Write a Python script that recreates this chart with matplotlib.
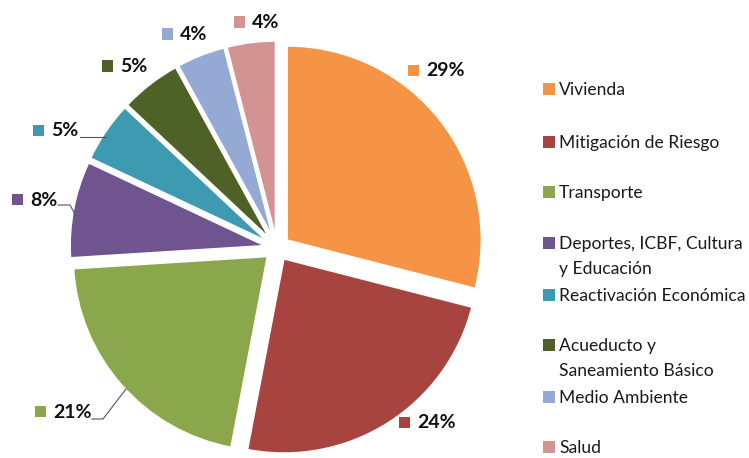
import matplotlib
matplotlib.use("Agg")
import matplotlib.pyplot as plt
from matplotlib.patches import Rectangle

# ---- data ----
categories = ["Vivienda", "Mitigación de Riesgo", "Transporte",
              "Deportes, ICBF, Cultura\ny Educación", "Reactivación Económica",
              "Acueducto y\nSaneamiento Básico", "Medio Ambiente", "Salud"]
values = [29, 24, 21, 8, 5, 5, 4, 4]
pct_labels = ["29%", "24%", "21%", "8%", "5%", "5%", "4%", "4%"]
colors = ["#F69445", "#A84440", "#8AA84B", "#6F5490", "#3E9AB0",
          "#4E6127", "#94A9D3", "#D49393"]

plt.rcParams['font.family'] = ['Lato', 'DejaVu Sans']

W, H = 749, 458
fig = plt.figure(figsize=(W / 100, H / 100), dpi=100)
ax = fig.add_axes([0, 0, 1, 1])

cx, cy, R = 277, 248, 194  # pixel center / radius


def px(x, y):
    return ((x - cx) / R, (cy - y) / R)


ax.pie(values, colors=colors, startangle=90, counterclock=False,
       explode=[0.067] * len(values), radius=1.0,
       wedgeprops=dict(edgecolor="white", linewidth=1.0))
ax.set_xlim(-cx / R, (W - cx) / R)
ax.set_ylim((cy - H) / R, cy / R)
ax.set_aspect('auto')
ax.axis('off')

# data label positions (pixel coords of key square centers)
label_pos = [(413, 70), (404, 422), (40, 411), (17, 199), (38, 130),
             (107, 66), (167, 34), (239, 22)]
leaders = {
    2: [(92, 419), (103, 419), (126, 389)],
    3: [(58, 205), (70, 205), (76, 216)],
    4: [(80, 137), (106, 137)],
}
for i, (lx, ly) in enumerate(label_pos):
    x0, y0 = px(lx - 5.5, ly + 5.5)
    ax.add_patch(Rectangle((x0, y0), 11 / R, 11 / R, color=colors[i], lw=0))
    tx, ty = px(lx + 13, ly + 1)
    ax.text(tx, ty, pct_labels[i], fontsize=14, fontweight='bold',
            ha='left', va='center', color='#111111')
for i, pts in leaders.items():
    xs = [px(*p)[0] for p in pts]
    ys = [px(*p)[1] for p in pts]
    ax.plot(xs, ys, color='#555555', lw=0.8)

# legend (manual)
leg_y = [89, 142, 192, 243, 295, 345, 397, 447]
line_gap = 25
for i, name in enumerate(categories):
    y = leg_y[i]
    fig.patches.append(Rectangle((543 / W, 1 - (y + 6) / H), 12 / W, 12 / H,
                                 transform=fig.transFigure, color=colors[i], lw=0))
    for k, line in enumerate(name.split("\n")):
        fig.text(559 / W, 1 - (y + 1 + k * line_gap) / H, line, fontsize=12.6,
                 ha='left', va='center', color='#1a1a1a')

fig.savefig("out.png", dpi=100)
